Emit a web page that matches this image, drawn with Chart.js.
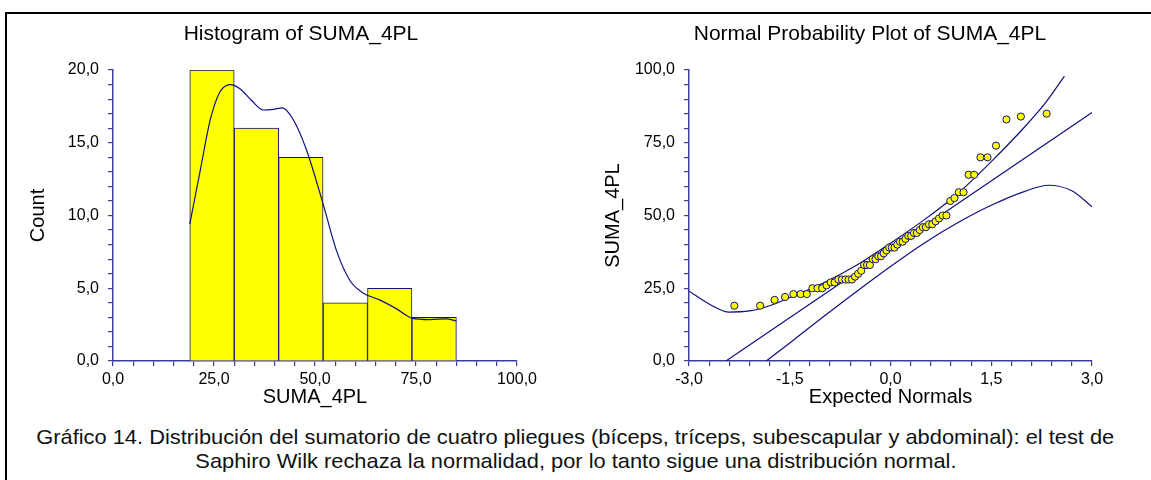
<!DOCTYPE html>
<html>
<head>
<meta charset="utf-8">
<title>SUMA_4PL</title>
<script src="https://cdn.jsdelivr.net/npm/chart.js@4/dist/chart.umd.min.js"></script>
<style>
  html, body { margin: 0; padding: 0; background: #fff; }
  body { width: 1151px; height: 480px; position: relative; overflow: hidden;
         font-family: 'Liberation Sans', Arial, sans-serif; }
  .frame { position: absolute; left: 5px; top: 12px; width: 1300px; height: 600px;
           border-top: 2px solid #000; border-left: 2px solid #000; }
  canvas { position: absolute; top: 0; }
  .titulo { position: absolute; top: 33px; transform: translate(-50%, -50%);
            font-size: 21px; color: #000; white-space: nowrap; }
  .leyenda { position: absolute; left: 0; width: 1151px; text-align: center; }
  .leyenda span { display: inline-block; white-space: nowrap; font-size: 21px; color: #111;
                  font-family: 'Liberation Sans Narrow', 'Arial Narrow', 'Liberation Sans', sans-serif;
                  transform-origin: center center; }
</style>
</head>
<body>
<div class="frame"></div>
<canvas id="histo" width="575" height="415" style="left:0"></canvas>
<canvas id="normal" width="576" height="415" style="left:575px"></canvas>
<div class="titulo" style="left:301px">Histogram of SUMA_4PL</div>
<div class="titulo" style="left:870px">Normal Probability Plot of SUMA_4PL</div>
<div class="leyenda" style="top:425px"><span id="cap1">Gráfico 14. Distribución del sumatorio de cuatro pliegues (bíceps, tríceps, subescapular y abdominal): el test de</span></div>
<div class="leyenda" style="top:449px"><span id="cap2">Saphiro Wilk rechaza la normalidad, por lo tanto sigue una distribución normal.</span></div>

<script>
// --- DATOS ---
// histograma (intervalos de 11 unidades)
const binEdges = [19, 30, 41, 52, 63, 74, 85];
const binCounts = [20, 16, 14, 4, 5, 3];

// curva de densidad
const kdeX = [19, 21.6, 24.1, 26.5, 29, 31.5, 34.3, 37.2, 39.7, 41.9, 44.6, 47.9, 52, 55.3, 58.6, 61.5, 66, 70.1, 74, 78.4, 82.5, 85];
const kdeY = [9.4, 13.1, 16.6, 18.5, 19.0, 18.7, 17.9, 17.25, 17.3, 17.4, 16.6, 14.5, 10.8, 7.6, 5.55, 4.75, 4.2, 3.6, 2.95, 2.85, 2.9, 2.75];

// gráfico de probabilidad normal (62 observaciones)
const expectedNormals = [
  -2.325, -1.941, -1.726, -1.570, -1.445, -1.339, -1.246, -1.163, -1.087, -1.017,
  -0.952, -0.890, -0.832, -0.776, -0.723, -0.671, -0.622, -0.574, -0.527, -0.481,
  -0.436, -0.392, -0.349, -0.307, -0.265, -0.223, -0.182, -0.141, -0.101, -0.060,
  -0.020, 0.020, 0.060, 0.101, 0.141, 0.182, 0.223, 0.265, 0.307, 0.349,
  0.392, 0.436, 0.481, 0.527, 0.574, 0.622, 0.671, 0.723, 0.776, 0.832,
  0.890, 0.952, 1.017, 1.087, 1.163, 1.246, 1.339, 1.445, 1.570, 1.726,
  1.941, 2.325
];
const sumaValues = [
  19, 19, 21, 22, 23, 23, 23, 25, 25, 25,
  26, 27, 27, 28, 28, 28, 28, 28, 29, 30,
  31, 33, 33, 33, 35, 35, 36, 36, 37, 38,
  39, 39, 39, 40, 41, 41, 42, 43, 43, 44,
  44, 45, 46, 46, 47, 47, 48, 49, 50, 50,
  55, 56, 58, 58, 64, 64, 70, 70, 74, 83,
  84, 85
];

// recta de ajuste y bandas de confianza
const fitX = [-2.45, 3.0];
const fitY = [0, 85.4];
const upperX = [-3.0, -2.7, -2.4, -2.1, -1.8, -1.5, -1.0, -0.5, 0.0, 0.5, 1.0, 1.5, 2.0, 2.3, 2.59];
const upperY = [24.0, 19.6, 16.8, 17.2, 19.0, 21.8, 26.8, 33.0, 40.5, 48.5, 57.5, 68.5, 80.5, 88.5, 97.9];
const lowerX = [-1.85, -1.5, -1.0, -0.5, 0.0, 0.5, 1.0, 1.5, 2.0, 2.35, 2.7, 3.0];
const lowerY = [0, 6.2, 15.2, 24.0, 32.5, 40.5, 47.5, 53.5, 58.3, 60.4, 58.5, 53.0];

// --- ESTILOS ---
const NAVY = '#10107e';
const AXIS = '#3c3ca0';

Chart.defaults.font.family = "'Liberation Sans', Arial, sans-serif";
Chart.defaults.color = '#000';
Chart.defaults.animation = false;

function fmt(v) {
  return (Math.round(v * 10) / 10).toFixed(1).replace('.', ',');
}
function pares(xs, ys) {
  return xs.map((x, i) => ({ x: x, y: ys[i] }));
}
function esMultiplo(v, m) {
  return Math.abs(v / m - Math.round(v / m)) < 1e-6;
}

function ejeX(min, max, step, major, titulo) {
  return {
    type: 'linear', min: min, max: max, position: 'bottom', offset: false,
    ticks: {
      stepSize: step, autoSkip: false, maxRotation: 0, padding: 4,
      font: { size: 16 }, color: '#000',
      callback: v => esMultiplo(v, major) ? fmt(v) : ''
    },
    grid: { offset: false, drawOnChartArea: false, drawTicks: true, tickLength: 5, color: AXIS, lineWidth: 1.2 },
    border: { color: AXIS, width: 1.5 },
    title: { display: true, text: titulo, font: { size: 20 }, color: '#000', padding: 0 },
    afterFit: s => { s.height = 48; }
  };
}
function ejeY(min, max, step, major, titulo, ancho, padTitulo) {
  return {
    min: min, max: max,
    ticks: {
      stepSize: step, autoSkip: false, padding: 9,
      font: { size: 16 }, color: '#000',
      callback: v => esMultiplo(v, major) ? fmt(v) : ''
    },
    grid: { drawOnChartArea: false, drawTicks: true, tickLength: 5, color: AXIS, lineWidth: 1.2 },
    border: { color: AXIS, width: 1.5 },
    title: { display: true, text: titulo, font: { size: 20 }, color: '#000', padding: { top: padTitulo, bottom: 0 } },
    afterFit: s => { s.width = ancho; }
  };
}

// --- HISTOGRAMA ---
const centros = binCounts.map((c, i) => (binEdges[i] + binEdges[i + 1]) / 2);

new Chart(document.getElementById('histo'), {
  type: 'bar',
  data: {
    datasets: [
      {
        type: 'line',
        data: pares(kdeX, kdeY),
        borderColor: NAVY, borderWidth: 1.2, pointRadius: 0,
        cubicInterpolationMode: 'monotone'
      },
      {
        type: 'bar',
        data: pares(centros, binCounts),
        backgroundColor: '#ffff00', borderColor: NAVY, borderWidth: 1,
        barThickness: 'flex', barPercentage: 1, categoryPercentage: 1
      }
    ]
  },
  options: {
    responsive: false,
    layout: { padding: { left: 0, right: 58, top: 70, bottom: 6 } },
    plugins: { legend: { display: false }, tooltip: { enabled: false } },
    scales: {
      x: ejeX(0, 100, 5, 25, 'SUMA_4PL'),
      y: ejeY(0, 20, 1, 5, 'Count', 113, 26)
    }
  }
});

// --- GRÁFICO DE PROBABILIDAD NORMAL ---
new Chart(document.getElementById('normal'), {
  type: 'scatter',
  data: {
    datasets: [
      {
        data: pares(expectedNormals, sumaValues),
        pointRadius: 3.6, pointBackgroundColor: '#ffff00',
        pointBorderColor: NAVY, pointBorderWidth: 1
      },
      {
        data: pares(fitX, fitY), showLine: true,
        borderColor: NAVY, borderWidth: 1.2, pointRadius: 0
      },
      {
        data: pares(upperX, upperY), showLine: true, cubicInterpolationMode: 'monotone',
        borderColor: NAVY, borderWidth: 1.2, pointRadius: 0
      },
      {
        data: pares(lowerX, lowerY), showLine: true, cubicInterpolationMode: 'monotone',
        borderColor: NAVY, borderWidth: 1.2, pointRadius: 0
      }
    ]
  },
  options: {
    responsive: false,
    layout: { padding: { left: 0, right: 59, top: 70, bottom: 6 } },
    plugins: { legend: { display: false }, tooltip: { enabled: false } },
    scales: {
      x: ejeX(-3, 3, 0.3, 1.5, 'Expected Normals'),
      y: ejeY(0, 100, 5, 25, 'SUMA_4PL', 114, 26)
    }
  }
});

// --- PIE DE FIGURA: ajusta el ancho a la línea del original ---
const cap1 = document.getElementById('cap1');
const cap2 = document.getElementById('cap2');
const k = 1078 / cap1.getBoundingClientRect().width;
cap1.style.transform = 'scaleX(' + k + ')';
cap2.style.transform = 'scaleX(' + k + ')';
</script>
</body>
</html>
